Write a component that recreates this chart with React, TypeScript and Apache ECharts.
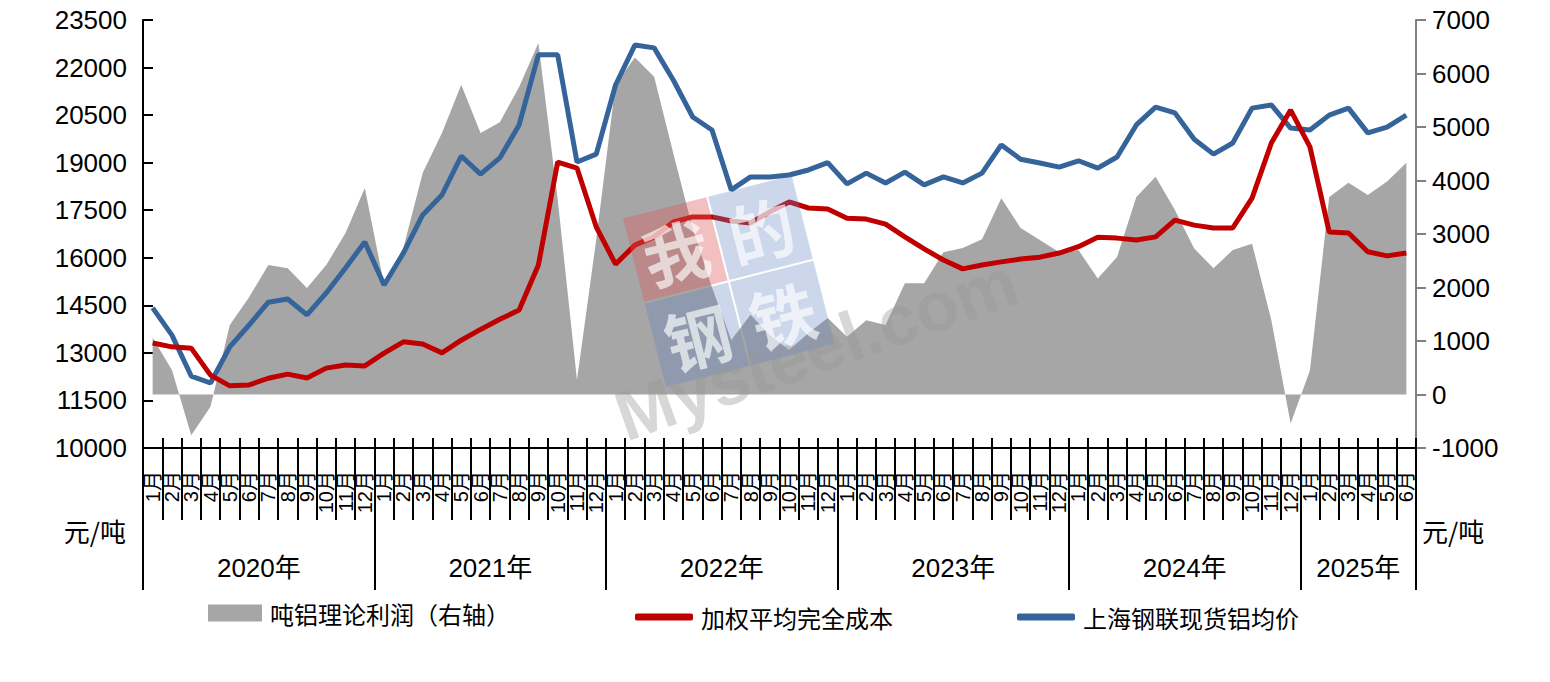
import React, { useEffect, useRef } from 'react';
import * as echarts from 'echarts';

const NUM_FONT = "'Liberation Sans', Arial, 'Noto Sans CJK SC', sans-serif";
const CJK_FONT = "'Noto Sans CJK SC', 'Liberation Sans', sans-serif";

const years = ['2020年', '2021年', '2022年', '2023年', '2024年', '2025年'];
const monthsPerYear = [12, 12, 12, 12, 12, 6];
const monthNames = ['1月', '2月', '3月', '4月', '5月', '6月', '7月', '8月', '9月', '10月', '11月', '12月'];

const seriesNames = ['吨铝理论利润（右轴）', '加权平均完全成本', '上海钢联现货铝均价'];

// 吨铝理论利润 (right axis)
const profit = [
  1060, 460, -760, -230, 1300, 1820, 2420, 2360, 1990, 2420, 3020, 3860,
  2050, 2740, 4140, 4890, 5790, 4890, 5090, 5750, 6570, 3650, 270, 2900,
  5800, 6300, 5940, 4500, 3100, 2000, 1020, 1490, 1110, 830, 1150, 1430,
  1080, 1390, 1300, 2080, 2080, 2660, 2740, 2900, 3670, 3110, 2890, 2660,
  2700, 2170, 2570, 3690, 4070, 3450, 2730, 2360, 2700, 2820, 1390, -540,
  450, 3690, 3960, 3730, 3980, 4330,
];

// 加权平均完全成本
const cost = [
  13310, 13190, 13150, 12300, 11960, 11990, 12200, 12330, 12210, 12520, 12620, 12590,
  12990, 13350, 13280, 13000, 13400, 13740, 14060, 14350, 15770, 19020, 18830, 16970,
  15800, 16400, 16660, 17130, 17290, 17290, 17160, 17100, 17450, 17760, 17570, 17540,
  17250, 17220, 17060, 16660, 16280, 15930, 15650, 15770, 15870, 15960, 16020, 16150,
  16350, 16650, 16620, 16560, 16660, 17190, 17030, 16940, 16940, 17880, 19620, 20660,
  19500, 16810, 16780, 16190, 16060, 16150,
];

// 上海钢联现货铝均价
const price = [
  14420, 13560, 12270, 12050, 13190, 13880, 14600, 14700, 14200, 14890, 15680, 16500,
  15140, 16150, 17350, 17980, 19210, 18640, 19150, 20190, 22400, 22400, 19020, 19270,
  21450, 22710, 22620, 21600, 20440, 20030, 18140, 18550, 18550, 18610, 18770, 19000,
  18330, 18670, 18360, 18700, 18300, 18550, 18360, 18670, 19560, 19110, 18990, 18860,
  19060, 18830, 19180, 20190, 20750, 20570, 19740, 19270, 19620, 20720, 20820, 20090,
  20030, 20500, 20720, 19940, 20120, 20500,
];

const leftAxis = { min: 10000, max: 23500, interval: 1500 };
const rightAxis = { min: -1000, max: 7000, interval: 1000 };

const monthCats: string[] = [];
const yearCats: string[] = [];
const yearLabelIdx: number[] = [];
const yearStartIdx: number[] = [];
{
  let start = 0;
  years.forEach((y, yi) => {
    const n = monthsPerYear[yi];
    for (let m = 0; m < n; m++) {
      monthCats.push(monthNames[m]);
      yearCats.push(y);
    }
    yearStartIdx.push(start);
    yearLabelIdx.push(start + n / 2);
    start += n;
  });
}

const plain = (v: number) => String(v);

export default function App() {
  const ref = useRef<HTMLDivElement>(null);
  useEffect(() => {
    if (!ref.current) return;
    const chart = echarts.init(ref.current, undefined, { renderer: 'svg' });
    const black = { color: '#000', width: 2 };
    const option: any = {
      animation: false,
      backgroundColor: '#ffffff',
      textStyle: { fontFamily: NUM_FONT },
      grid: { left: 143, right: 134, top: 20, bottom: 234, containLabel: false, outerBoundsMode: 'none' },
      legend: [
        {
          left: 208, top: 601, padding: 0, itemWidth: 54, itemHeight: 17, icon: 'rect',
          data: [{ name: seriesNames[0], itemStyle: { color: '#A6A6A6' } }],
          textStyle: { fontSize: 24, color: '#000', fontFamily: CJK_FONT, padding: [0, 0, 0, 3] },
        },
        {
          left: 635, top: 605, padding: 0, itemWidth: 58, itemHeight: 7, icon: 'roundRect',
          data: [seriesNames[1]],
          textStyle: { fontSize: 24, color: '#000', fontFamily: CJK_FONT, padding: [0, 0, 0, 3] },
        },
        {
          left: 1017, top: 605, padding: 0, itemWidth: 58, itemHeight: 7, icon: 'roundRect',
          data: [seriesNames[2]],
          textStyle: { fontSize: 24, color: '#000', fontFamily: CJK_FONT, padding: [0, 0, 0, 3] },
        },
      ],
      xAxis: [
        {
          type: 'category', data: monthCats, position: 'bottom', boundaryGap: true,
          axisLine: { show: true, onZero: false, lineStyle: black },
          axisTick: { show: true, interval: 0, length: 72, lineStyle: black },
          axisLabel: { interval: 0, rotate: 90, fontSize: 20, margin: 23, color: '#000', fontFamily: NUM_FONT, hideOverlap: false },
          splitLine: { show: false },
        },
        {
          type: 'category', data: yearCats, position: 'bottom', boundaryGap: true,
          axisLine: { show: false, onZero: false },
          axisTick: { show: true, interval: (i: number) => yearStartIdx.includes(i), length: 142, lineStyle: black },
          axisLabel: {
            interval: (i: number) => yearLabelIdx.includes(i), margin: 107, fontSize: 26, color: '#000',
            fontFamily: NUM_FONT, padding: [0, 19, 0, 0], hideOverlap: false,
          },
          splitLine: { show: false },
        },
        {
          type: 'category', data: monthCats, position: 'bottom', boundaryGap: true,
          axisLine: { show: false, onZero: false },
          axisTick: { show: true, inside: true, interval: 0, length: 10, lineStyle: black },
          axisLabel: { show: false },
          splitLine: { show: false },
        },
      ],
      yAxis: [
        {
          type: 'value', position: 'left', ...leftAxis,
          axisLine: { show: true, lineStyle: black },
          axisTick: { show: true, inside: true, length: 10, lineStyle: black },
          axisLabel: { fontSize: 26, color: '#000', margin: 16, fontFamily: NUM_FONT, formatter: plain },
          splitLine: { show: false },
          name: '元/吨', nameLocation: 'start', nameGap: 69,
          nameTextStyle: { fontSize: 26, color: '#000', align: 'right', verticalAlign: 'top', padding: [0, 17, 0, 0], fontFamily: CJK_FONT },
        },
        {
          type: 'value', position: 'right', ...rightAxis,
          axisLine: { show: true, lineStyle: { color: '#808080', width: 2 } },
          axisTick: { show: true, length: 10, lineStyle: { color: '#808080', width: 2 } },
          axisLabel: { fontSize: 26, color: '#000', margin: 16, fontFamily: NUM_FONT, formatter: plain },
          splitLine: { show: false },
          name: '元/吨', nameLocation: 'start', nameGap: 69,
          nameTextStyle: { fontSize: 26, color: '#000', align: 'left', verticalAlign: 'top', padding: [0, 0, 0, 6], fontFamily: CJK_FONT },
        },
      ],
      series: [
        {
          name: seriesNames[0], type: 'line', xAxisIndex: 0, yAxisIndex: 1, data: profit,
          symbol: 'none', lineStyle: { width: 0, opacity: 0 },
          itemStyle: { color: '#A6A6A6' },
          areaStyle: { color: '#A6A6A6', opacity: 1 },
          z: 1,
        },
        {
          name: seriesNames[2], type: 'line', xAxisIndex: 0, yAxisIndex: 0, data: price,
          symbol: 'none', lineStyle: { width: 5, color: '#35649A' },
          itemStyle: { color: '#35649A' }, z: 3,
        },
        {
          name: seriesNames[1], type: 'line', xAxisIndex: 0, yAxisIndex: 0, data: cost,
          symbol: 'none', lineStyle: { width: 5, color: '#C00000' },
          itemStyle: { color: '#C00000' }, z: 4,
        },
      ],
      graphic: [
        {
          type: 'group', x: 730, y: 282, rotation: 0.25, z: 100, silent: true,
          children: [
            { type: 'rect', shape: { x: -88, y: -88, width: 86, height: 86 }, style: { fill: 'rgba(220,90,90,0.38)' }, z: 100 },
            { type: 'rect', shape: { x: 0, y: -88, width: 86, height: 86 }, style: { fill: 'rgba(100,132,192,0.32)' }, z: 100 },
            { type: 'rect', shape: { x: -88, y: 0, width: 86, height: 86 }, style: { fill: 'rgba(100,132,192,0.32)' }, z: 100 },
            { type: 'rect', shape: { x: 0, y: 0, width: 86, height: 86 }, style: { fill: 'rgba(100,132,192,0.32)' }, z: 100 },
            { type: 'text', x: -45, y: -45, z: 101, style: { text: '我', font: 'bold 66px "Noto Sans CJK SC"', fill: 'rgba(255,255,255,0.65)', align: 'center', verticalAlign: 'middle' } },
            { type: 'text', x: 43, y: -45, z: 101, style: { text: '的', font: 'bold 66px "Noto Sans CJK SC"', fill: 'rgba(255,255,255,0.65)', align: 'center', verticalAlign: 'middle' } },
            { type: 'text', x: -45, y: 43, z: 101, style: { text: '钢', font: 'bold 66px "Noto Sans CJK SC"', fill: 'rgba(255,255,255,0.65)', align: 'center', verticalAlign: 'middle' } },
            { type: 'text', x: 43, y: 43, z: 101, style: { text: '铁', font: 'bold 66px "Noto Sans CJK SC"', fill: 'rgba(255,255,255,0.65)', align: 'center', verticalAlign: 'middle' } },
          ],
        },
        {
          type: 'text', x: 630, y: 452, rotation: 0.34, z: 100, silent: true,
          style: { text: 'Mysteel.com', font: 'bold 70px "Liberation Sans"', fill: 'rgba(150,150,150,0.38)', verticalAlign: 'bottom' },
        },
      ],
    };
    chart.setOption(option);
    return () => chart.dispose();
  }, []);
  return (
    <div
      ref={ref}
      style={{ position: 'fixed', left: 0, top: 0, width: 1550, height: 682, background: '#fff' }}
    />
  );
}
